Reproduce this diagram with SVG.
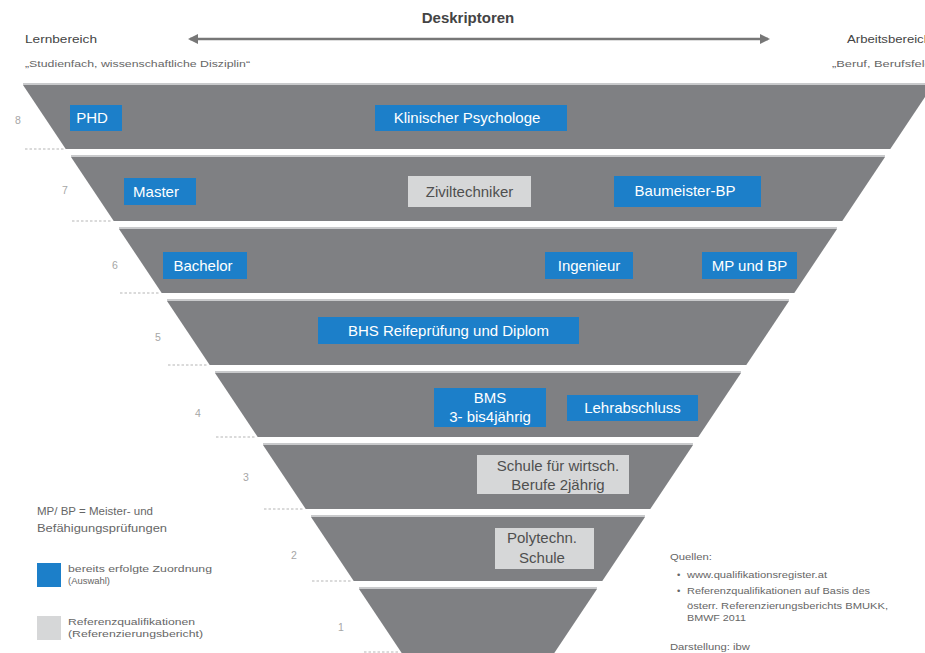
<svg xmlns="http://www.w3.org/2000/svg" width="925" height="653" viewBox="0 0 925 653">
<style>
text{font-family:"Liberation Sans",Arial,sans-serif}
.band{fill:#7f8083}
.hl{stroke:#c9cacc;stroke-width:2}
.dash{stroke:#b5b5b5;stroke-width:1;stroke-dasharray:2.5 2}
.num{font-size:10.5px;fill:#a6a6a6}
.blue{fill:#1c7fc9}
.grey{fill:#d6d7d8}
.bt{font-size:15px;fill:#fff;text-anchor:middle}
.gt{font-size:15px;fill:#4f4f4f;text-anchor:middle}
.small{font-size:10.5px;fill:#666}
.tiny{font-size:9.5px;fill:#666}
.hdr{font-size:11.5px;fill:#444}
</style>
<defs>
<marker id="ah" viewBox="0 0 10 10" refX="8" refY="5" markerWidth="4" markerHeight="4" orient="auto-start-reverse">
<path d="M0,0 L10,5 L0,10 z" fill="#777"/>
</marker>
</defs>
<rect width="925" height="653" fill="#fff"/>

<g id="header">
<text x="468" y="23" font-size="15" font-weight="bold" fill="#444" text-anchor="middle">Deskriptoren</text>
<line x1="190" y1="39" x2="768" y2="39" stroke="#777" stroke-width="2.5" marker-start="url(#ah)" marker-end="url(#ah)"/>
<text class="hdr" x="25" y="43" textLength="72" lengthAdjust="spacingAndGlyphs">Lernbereich</text>
<text class="tiny" x="25" y="67" textLength="225" lengthAdjust="spacingAndGlyphs">„Studienfach, wissenschaftliche Disziplin“</text>
<text class="hdr" x="847" y="43" textLength="84" lengthAdjust="spacingAndGlyphs">Arbeitsbereich</text>
<text class="tiny" x="832" y="67" textLength="104" lengthAdjust="spacingAndGlyphs">„Beruf, Berufsfeld“</text>
</g>

<g id="bands">
<g id="level8"><line class="hl" x1="23" y1="84" x2="933" y2="84"/><polygon class="band" points="23,85 933,85 890.3,149 65.7,149"/><line class="dash" x1="25" y1="149" x2="64" y2="149"/><text class="num" x="15" y="124">8</text></g>
<g id="level7"><line class="hl" x1="71" y1="156" x2="885" y2="156"/><polygon class="band" points="71,157 885,157 842.3,221 113.7,221"/><line class="dash" x1="72" y1="221" x2="112" y2="221"/><text class="num" x="62" y="194">7</text></g>
<g id="level6"><line class="hl" x1="119" y1="228" x2="837" y2="228"/><polygon class="band" points="119,229 837,229 794.3,293 161.7,293"/><line class="dash" x1="120" y1="293" x2="160" y2="293"/><text class="num" x="112" y="269">6</text></g>
<g id="level5"><line class="hl" x1="167" y1="300" x2="789" y2="300"/><polygon class="band" points="167,301 789,301 746.3,365 209.7,365"/><line class="dash" x1="168" y1="365" x2="208" y2="365"/><text class="num" x="155" y="341">5</text></g>
<g id="level4"><line class="hl" x1="215" y1="372" x2="741" y2="372"/><polygon class="band" points="215,373 741,373 698.3,437 257.7,437"/><line class="dash" x1="216" y1="437" x2="256" y2="437"/><text class="num" x="195" y="417">4</text></g>
<g id="level3"><line class="hl" x1="263" y1="444" x2="693" y2="444"/><polygon class="band" points="263,445 693,445 650.3,509 305.7,509"/><line class="dash" x1="264" y1="509" x2="304" y2="509"/><text class="num" x="243" y="481">3</text></g>
<g id="level2"><line class="hl" x1="311" y1="516" x2="645" y2="516"/><polygon class="band" points="311,517 645,517 602.3,581 353.7,581"/><line class="dash" x1="312" y1="581" x2="352" y2="581"/><text class="num" x="291" y="559">2</text></g>
<g id="level1"><line class="hl" x1="359" y1="588" x2="597" y2="588"/><polygon class="band" points="359,589 597,589 554.3,653 401.7,653"/><line class="dash" x1="364" y1="652" x2="400" y2="652"/><text class="num" x="338" y="631">1</text></g>
</g>

<g id="phd"><rect class="blue" x="70" y="105" width="52" height="26"/><text class="bt" x="92" y="123">PHD</text></g>
<g id="klinischer-psychologe"><rect class="blue" x="375" y="105" width="192" height="26"/><text class="bt" x="467" y="123">Klinischer Psychologe</text></g>
<g id="master"><rect class="blue" x="124" y="178" width="72" height="27"/><text class="bt" x="156" y="197">Master</text></g>
<g id="ziviltechniker"><rect class="grey" x="408" y="176" width="123" height="31"/><text class="gt" x="469.5" y="197">Ziviltechniker</text></g>
<g id="baumeister-bp"><rect class="blue" x="614" y="176" width="147" height="31"/><text class="bt" x="685" y="196">Baumeister-BP</text></g>
<g id="bachelor"><rect class="blue" x="163" y="252" width="84" height="27"/><text class="bt" x="203" y="271">Bachelor</text></g>
<g id="ingenieur"><rect class="blue" x="545" y="252" width="88" height="27"/><text class="bt" x="589" y="271">Ingenieur</text></g>
<g id="mp-und-bp"><rect class="blue" x="702" y="252" width="95" height="27"/><text class="bt" x="749.5" y="271">MP und BP</text></g>
<g id="bhs"><rect class="blue" x="318" y="317" width="261" height="27"/><text class="bt" x="448.5" y="336">BHS Reifeprüfung und Diplom</text></g>
<g id="bms"><rect class="blue" x="434" y="388" width="112" height="39"/><text class="bt" x="490" y="403">BMS</text><text class="bt" x="490" y="422">3- bis4jährig</text></g>
<g id="lehrabschluss"><rect class="blue" x="567" y="395" width="131" height="26"/><text class="bt" x="632.5" y="413">Lehrabschluss</text></g>
<g id="schule-wirtsch"><rect class="grey" x="477" y="455" width="152" height="39"/><text class="gt" x="558" y="471">Schule für wirtsch.</text><text class="gt" x="558" y="490">Berufe 2jährig</text></g>
<g id="polytechn"><rect class="grey" x="495" y="528" width="99" height="41"/><text class="gt" x="542" y="543">Polytechn.</text><text class="gt" x="542" y="563">Schule</text></g>

<g id="legend">
<text class="small" x="37" y="515" textLength="116" lengthAdjust="spacingAndGlyphs">MP/ BP = Meister- und</text>
<text class="small" x="37" y="532" textLength="130" lengthAdjust="spacingAndGlyphs">Befähigungsprüfungen</text>
<rect class="blue" x="37" y="563" width="24" height="24"/>
<text class="tiny" x="68" y="572" textLength="144" lengthAdjust="spacingAndGlyphs">bereits erfolgte Zuordnung</text>
<text class="tiny" x="68" y="584" textLength="42" lengthAdjust="spacingAndGlyphs">(Auswahl)</text>
<rect class="grey" x="37" y="616" width="24" height="24"/>
<text class="tiny" x="68" y="625" textLength="127" lengthAdjust="spacingAndGlyphs">Referenzqualifikationen</text>
<text class="tiny" x="68" y="637" textLength="135" lengthAdjust="spacingAndGlyphs">(Referenzierungsbericht)</text>
</g>

<g id="sources">
<text class="tiny" x="670" y="560" textLength="42" lengthAdjust="spacingAndGlyphs">Quellen:</text>
<text class="tiny" x="677" y="578">•</text>
<text class="tiny" x="687" y="578" textLength="140" lengthAdjust="spacingAndGlyphs">www.qualifikationsregister.at</text>
<text class="tiny" x="677" y="594">•</text>
<text class="tiny" x="687" y="594" textLength="183" lengthAdjust="spacingAndGlyphs">Referenzqualifikationen auf Basis des</text>
<text class="tiny" x="687" y="609" textLength="201" lengthAdjust="spacingAndGlyphs">österr. Referenzierungsberichts BMUKK,</text>
<text class="tiny" x="687" y="621" textLength="59" lengthAdjust="spacingAndGlyphs">BMWF 2011</text>
<text class="tiny" x="670" y="650" textLength="80" lengthAdjust="spacingAndGlyphs">Darstellung: ibw</text>
</g>
</svg>
